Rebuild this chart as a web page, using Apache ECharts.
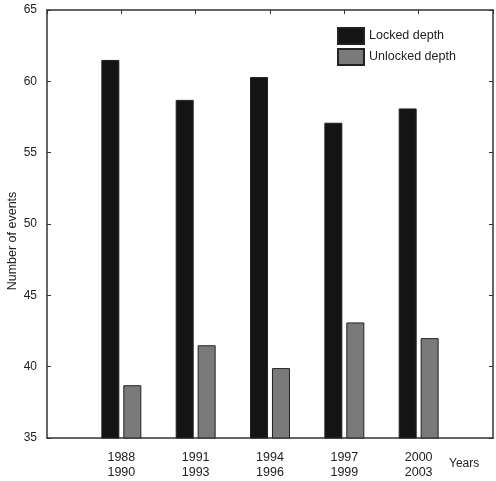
<!DOCTYPE html>
<html>
<head>
<meta charset="utf-8">
<script src="https://cdn.jsdelivr.net/npm/echarts@6/dist/echarts.min.js"></script>
<style>
  html, body { margin: 0; padding: 0; background: #fff; }
  #chart { width: 496px; height: 481px; }
</style>
</head>
<body>
<div id="chart"></div>
<script>
  // blank first/last slots keep the groups off the frame edges
  const years = ['', '1988\n1990', '1991\n1993', '1994\n1996', '1997\n1999', '2000\n2003', '']
  const locked = [null, 61.5, 58.7, 60.3, 57.1, 58.1, null]
  const unlocked = [null, 38.7, 41.5, 39.9, 43.1, 42.0, null]

  const font = 'Liberation Sans, Arial, sans-serif'
  const chart = echarts.init(document.getElementById('chart'))

  const option = {
    animation: false,
    textStyle: { fontFamily: font },
    grid: { left: 47, right: 1, top: 10, bottom: 43 },
    legend: {
      left: 337,
      top: 27,
      padding: 0,
      orient: 'vertical',
      icon: 'rect',
      itemWidth: 26,
      itemHeight: 16,
      itemGap: 3,
      textStyle: { fontSize: 12.5, color: '#222', fontFamily: font, lineHeight: 16 },
      data: ['Locked depth', 'Unlocked depth']
    },
    graphic: [
      {
        type: 'text',
        x: 13,
        y: 241,
        rotation: Math.PI / 2,
        style: {
          text: 'Number of events',
          fontSize: 12.5,
          fontFamily: font,
          fill: '#222',
          align: 'center',
          verticalAlign: 'middle'
        }
      },
      {
        type: 'text',
        x: 449,
        y: 464,
        style: {
          text: 'Years',
          fontSize: 12,
          fontFamily: font,
          fill: '#222',
          verticalAlign: 'middle'
        }
      }
    ],
    xAxis: [
      {
        type: 'category',
        data: years,
        boundaryGap: false,
        axisLine: { lineStyle: { color: '#333', width: 1.5 } },
        axisTick: { show: false },
        axisLabel: { fontSize: 12.5, color: '#222', lineHeight: 15, margin: 12, interval: 0 }
      },
      {
        type: 'category',
        data: years,
        position: 'top',
        boundaryGap: false,
        axisLine: { lineStyle: { color: '#333', width: 1.5 } },
        axisTick: { inside: true, length: 4, lineStyle: { color: '#333' } },
        axisLabel: { show: false }
      }
    ],
    yAxis: [
      {
        type: 'value',
        min: 35,
        max: 65,
        interval: 5,
        splitLine: { show: false },
        axisLine: { show: true, lineStyle: { color: '#333', width: 1.5 } },
        axisTick: { show: true, inside: true, length: 4, lineStyle: { color: '#333' } },
        axisLabel: { fontSize: 12, color: '#222', margin: 10 }
      },
      {
        type: 'value',
        min: 35,
        max: 65,
        interval: 5,
        position: 'right',
        splitLine: { show: false },
        axisLine: { show: true, lineStyle: { color: '#333', width: 1.5 } },
        axisTick: { show: true, inside: true, length: 4, lineStyle: { color: '#333' } },
        axisLabel: { show: false }
      }
    ],
    series: [
      {
        name: 'Locked depth',
        type: 'bar',
        data: locked,
        barWidth: 18,
        barGap: '22%',
        itemStyle: { color: '#141414', borderColor: '#222', borderWidth: 1 }
      },
      {
        name: 'Unlocked depth',
        type: 'bar',
        data: unlocked,
        barWidth: 18,
        itemStyle: { color: '#7a7a7a', borderColor: '#222', borderWidth: 1 }
      }
    ]
  }

  chart.setOption(option)
</script>
</body>
</html>
